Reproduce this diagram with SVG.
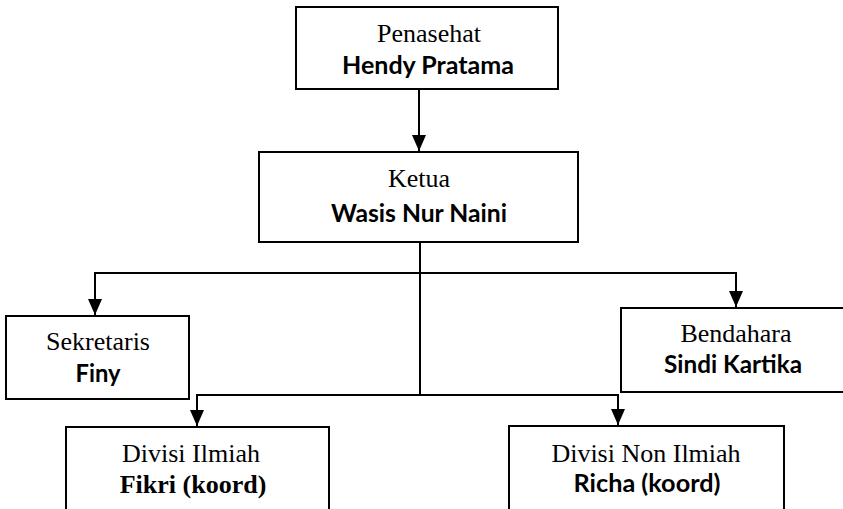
<svg xmlns="http://www.w3.org/2000/svg" width="843" height="509" viewBox="0 0 843 509">
<style>
.box{fill:#fff;stroke:#000;stroke-width:2}
.ln{fill:none;stroke:#000;stroke-width:2}
.t{font-family:"Liberation Serif","Times New Roman",serif;font-size:26px;fill:#000;text-anchor:middle}
.b{font-family:Lato,"Liberation Sans",sans-serif;font-weight:bold;font-size:25px;fill:#000;text-anchor:middle}
.tb{font-family:"Liberation Serif","Times New Roman",serif;font-weight:bold;font-size:26px;fill:#000;text-anchor:middle}
</style>
<defs>
<marker id="ah" markerUnits="userSpaceOnUse" markerWidth="16" markerHeight="14" refX="16" refY="7" orient="auto">
<path d="M0,0 L16,7 L0,14 z" fill="#000"/>
</marker>
</defs>
<rect width="843" height="509" fill="#fff"/>
<g id="connectors">
<line class="ln" x1="419" y1="89" x2="419" y2="151" marker-end="url(#ah)"/>
<line class="ln" x1="420" y1="242" x2="420" y2="395"/>
<polyline class="ln" points="95,315 95,273 736,273 736,307" marker-end="url(#ah)"/>
<line class="ln" x1="95" y1="273" x2="95" y2="315" marker-end="url(#ah)"/>
<polyline class="ln" points="197,426 197,395 618,395 618,425" marker-end="url(#ah)"/>
<line class="ln" x1="197" y1="395" x2="197" y2="426" marker-end="url(#ah)"/>
</g>
<g id="penasehat">
<rect class="box" x="296" y="7" width="262" height="82"/>
<text class="t" x="429" y="42">Penasehat</text>
<text class="b" x="428" y="74" textLength="172" lengthAdjust="spacingAndGlyphs">Hendy Pratama</text>
</g>
<g id="ketua">
<rect class="box" x="259" y="152" width="319" height="90"/>
<text class="t" x="419" y="187">Ketua</text>
<text class="b" x="419" y="222" textLength="176" lengthAdjust="spacingAndGlyphs">Wasis Nur Naini</text>
</g>
<g id="sekretaris">
<rect class="box" x="6" y="316" width="183" height="83"/>
<text class="t" x="98" y="350">Sekretaris</text>
<text class="b" x="98" y="382" textLength="45" lengthAdjust="spacingAndGlyphs">Finy</text>
</g>
<g id="bendahara">
<rect class="box" x="621" y="308" width="230" height="84"/>
<text class="t" x="736" y="342">Bendahara</text>
<text class="b" x="733" y="373" textLength="138" lengthAdjust="spacingAndGlyphs">Sindi Kartika</text>
</g>
<g id="divisi-ilmiah">
<rect class="box" x="66" y="427" width="263" height="90"/>
<text class="t" x="191" y="462">Divisi Ilmiah</text>
<text class="tb" x="193" y="493">Fikri (koord)</text>
</g>
<g id="divisi-non-ilmiah">
<rect class="box" x="509" y="426" width="275" height="90"/>
<text class="t" x="646" y="462">Divisi Non Ilmiah</text>
<text class="b" x="647" y="492" textLength="147" lengthAdjust="spacingAndGlyphs">Richa (koord)</text>
</g>
</svg>
